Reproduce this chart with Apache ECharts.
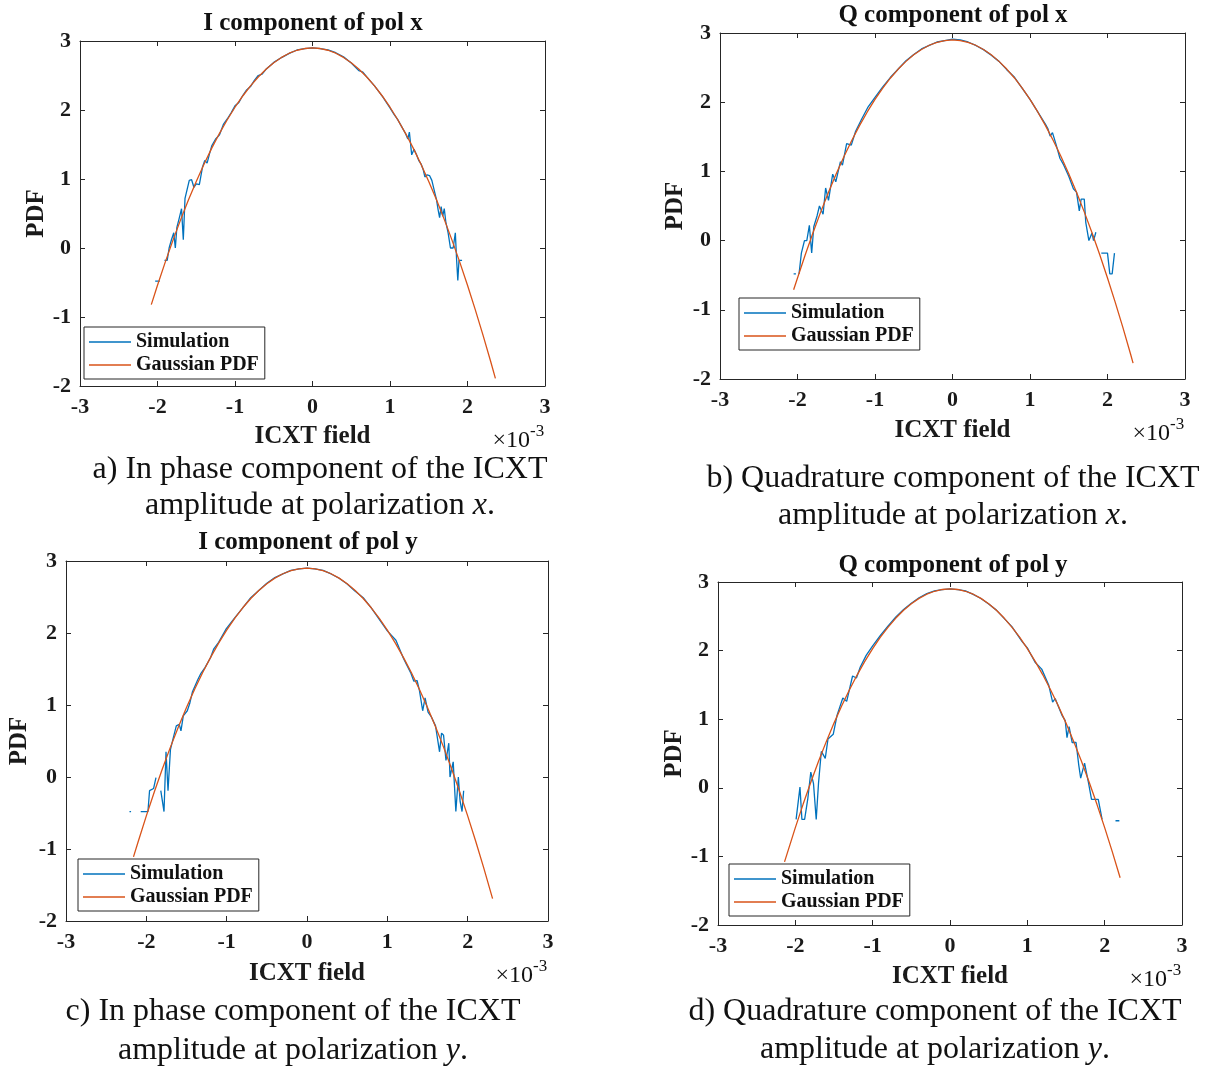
<!DOCTYPE html>
<html>
<head>
<meta charset="utf-8">
<title>ICXT field PDF</title>
<script src="https://cdn.jsdelivr.net/npm/echarts@6/dist/echarts.min.js"></script>
<style>
  html, body { margin: 0; padding: 0; background: #fff; }
  #chart { width: 1209px; height: 1066px; }
</style>
</head>
<body>
<div id="chart"></div>
<script>
// x values are in units of 1e-3 (axis multiplier shown as x10^-3), y = log PDF

// ---- a) I component, pol x ----
const simAX = [-2.03, -1.97, -1.94, -1.91, -1.875, -1.85, -1.82, -1.79, -1.77, -1.75,
  -1.72, -1.69, -1.667, -1.645, -1.62, -1.59, -1.56, -1.53, -1.5, -1.46,
  -1.42, -1.39, -1.36, -1.33, -1.3, -1.25, -1.2, -1.15, -1.1, -1.05,
  -1.0, -0.95, -0.9, -0.85, -0.8, -0.75, -0.7, -0.65, -0.6, -0.5,
  -0.4, -0.3, -0.2, -0.1, 0, 0.1, 0.2, 0.3, 0.4, 0.5,
  0.6, 0.65, 0.7, 0.8, 0.9, 1.0, 1.05, 1.1, 1.15, 1.2,
  1.23, 1.25, 1.28, 1.31, 1.34, 1.37, 1.4, 1.43, 1.45, 1.48,
  1.51, 1.54, 1.57, 1.6, 1.62, 1.64, 1.66, 1.68, 1.70, 1.72,
  1.75, 1.78, 1.815, 1.843, 1.86, 1.875, 1.89, 1.93];
const simAY = [-0.48, -0.48, null, -0.18, -0.18, 0.0, 0.12, 0.22, 0.0, 0.3,
  0.43, 0.57, 0.12, 0.72, 0.73, 0.98, 0.99, 0.88, 0.93, 0.92,
  1.17, 1.27, 1.23, 1.36, 1.48, 1.58, 1.64, 1.79, 1.87, 1.96,
  2.06, 2.11, 2.21, 2.29, 2.34, 2.43, 2.50, 2.52, 2.59, 2.69,
  2.76, 2.82, 2.87, 2.89, 2.90, 2.89, 2.87, 2.83, 2.77, 2.68,
  2.57, 2.55, 2.48, 2.35, 2.20, 2.03, 1.94, 1.86, 1.76, 1.66,
  1.58, 1.68, 1.35, 1.43, 1.36, 1.27, 1.22, 1.13, 1.03, 1.06,
  1.05, 0.98, 0.84, 0.70, 0.56, 0.44, 0.60, 0.46, 0.57, 0.38,
  0.22, 0.0, 0.0, 0.22, -0.18, -0.47, -0.18, -0.18];
const gaussAX = [-2.08, -2.0, -1.9, -1.8, -1.7, -1.6, -1.5, -1.4, -1.3, -1.2, -1.1, -1.0,
  -0.9, -0.8, -0.7, -0.6, -0.5, -0.4, -0.3, -0.2, -0.1, 0, 0.1, 0.2, 0.3, 0.4, 0.5, 0.6,
  0.7, 0.8, 0.9, 1.0, 1.1, 1.2, 1.3, 1.4, 1.5, 1.6, 1.7, 1.8, 1.9, 2.0, 2.1, 2.2, 2.3, 2.36];
const gaussAY = [-0.82, -0.54, -0.205, 0.114, 0.415, 0.698, 0.965, 1.214, 1.447, 1.662, 1.859, 2.04,
  2.203, 2.35, 2.479, 2.59, 2.685, 2.762, 2.823, 2.866, 2.891, 2.9, 2.891, 2.866, 2.823, 2.762, 2.685, 2.59,
  2.479, 2.35, 2.203, 2.04, 1.859, 1.662, 1.447, 1.214, 0.965, 0.698, 0.415, 0.114, -0.205, -0.54, -0.893, -1.262, -1.649, -1.89];

// ---- b) Q component, pol x ----
const simBX = [-2.05, -2.02, -2.0, -1.98, -1.95, -1.91, -1.88, -1.847, -1.817, -1.79,
  -1.747, -1.717, -1.67, -1.637, -1.6, -1.546, -1.506, -1.446, -1.42, -1.366,
  -1.306, -1.25, -1.17, -1.095, -1.0, -0.9, -0.8, -0.7, -0.6, -0.5,
  -0.4, -0.3, -0.2, -0.1, 0, 0.1, 0.2, 0.3, 0.4, 0.5,
  0.6, 0.7, 0.8, 0.9, 1.0, 1.1, 1.2, 1.23, 1.26, 1.29,
  1.336, 1.386, 1.436, 1.5, 1.56, 1.6, 1.636, 1.66, 1.70, 1.72,
  1.76, 1.80, 1.82, 1.85, 1.88, 1.92, 2.0, 2.03, 2.06, 2.09];
const simBY = [-0.48, -0.48, null, -0.48, -0.18, 0.0, 0.0, 0.22, -0.18, 0.2,
  0.36, 0.5, 0.38, 0.76, 0.58, 0.96, 0.85, 1.14, 1.09, 1.40,
  1.38, 1.58, 1.76, 1.92, 2.07, 2.22, 2.36, 2.48, 2.60, 2.69,
  2.77, 2.82, 2.87, 2.89, 2.91, 2.90, 2.87, 2.82, 2.76, 2.68,
  2.59, 2.47, 2.36, 2.20, 2.04, 1.86, 1.68, 1.62, 1.51, 1.56,
  1.39, 1.19, 1.09, 0.93, 0.75, 0.70, 0.43, 0.60, 0.60, 0.26,
  0.0, 0.11, 0.0, 0.12, null, -0.18, -0.18, -0.48, -0.48, -0.18];
const gaussBX = [-2.05, -2.0, -1.9, -1.8, -1.7, -1.6, -1.5, -1.4, -1.3, -1.2, -1.1, -1.0,
  -0.9, -0.8, -0.7, -0.6, -0.5, -0.4, -0.3, -0.2, -0.1, 0, 0.1, 0.2, 0.3, 0.4, 0.5, 0.6,
  0.7, 0.8, 0.9, 1.0, 1.1, 1.2, 1.3, 1.4, 1.5, 1.6, 1.7, 1.8, 1.9, 2.0, 2.1, 2.2, 2.3, 2.33];
const gaussBY = [-0.71, -0.54, -0.205, 0.114, 0.415, 0.698, 0.965, 1.214, 1.447, 1.662, 1.859, 2.04,
  2.203, 2.35, 2.479, 2.59, 2.685, 2.762, 2.823, 2.866, 2.891, 2.9, 2.891, 2.866, 2.823, 2.762, 2.685, 2.59,
  2.479, 2.35, 2.203, 2.04, 1.859, 1.662, 1.447, 1.214, 0.965, 0.698, 0.415, 0.114, -0.205, -0.54, -0.893, -1.262, -1.649, -1.77];

// ---- c) I component, pol y ----
const simCX = [-2.21, -2.19, -2.17, -2.07, -1.98, -1.96, -1.94, -1.91, -1.88, -1.86,
  -1.82, -1.80, -1.78, -1.755, -1.73, -1.70, -1.67, -1.627, -1.59, -1.569,
  -1.54, -1.49, -1.46, -1.427, -1.36, -1.32, -1.27, -1.2, -1.16, -1.1,
  -1.004, -0.9, -0.8, -0.7, -0.6, -0.5, -0.4, -0.3, -0.2, -0.1,
  0, 0.1, 0.2, 0.3, 0.4, 0.5, 0.6, 0.7, 0.8, 0.9,
  1.0, 1.107, 1.2, 1.24, 1.29, 1.33, 1.37, 1.40, 1.44, 1.47,
  1.507, 1.55, 1.60, 1.65, 1.675, 1.70, 1.73, 1.765, 1.78, 1.82,
  1.853, 1.884, 1.906, 1.93, 1.95];
const simCY = [-0.48, -0.48, null, -0.48, -0.48, -0.19, -0.19, -0.16, -0.01, null,
  -0.19, -0.19, -0.48, 0.35, -0.19, 0.38, 0.52, 0.71, 0.73, 0.64,
  0.85, 0.92, 1.02, 1.18, 1.35, 1.44, 1.52, 1.66, 1.78, 1.87,
  2.06, 2.21, 2.35, 2.49, 2.59, 2.69, 2.77, 2.82, 2.87, 2.89,
  2.90, 2.89, 2.87, 2.82, 2.76, 2.68, 2.58, 2.49, 2.35, 2.19,
  2.03, 1.90, 1.65, 1.56, 1.45, 1.33, 1.34, 1.20, 0.92, 1.10,
  0.90, 0.83, 0.71, 0.35, 0.61, 0.58, 0.23, 0.47, 0.0, 0.21,
  -0.48, 0.0, -0.34, -0.48, -0.19];
const gaussCX = [-2.16, -2.1, -2.0, -1.9, -1.8, -1.7, -1.6, -1.5, -1.4, -1.3, -1.2, -1.1, -1.0,
  -0.9, -0.8, -0.7, -0.6, -0.5, -0.4, -0.3, -0.2, -0.1, 0, 0.1, 0.2, 0.3, 0.4, 0.5, 0.6,
  0.7, 0.8, 0.9, 1.0, 1.1, 1.2, 1.3, 1.4, 1.5, 1.6, 1.7, 1.8, 1.9, 2.0, 2.1, 2.2, 2.31];
const gaussCY = [-1.11, -0.893, -0.54, -0.205, 0.114, 0.415, 0.698, 0.965, 1.214, 1.447, 1.662, 1.859, 2.04,
  2.203, 2.35, 2.479, 2.59, 2.685, 2.762, 2.823, 2.866, 2.891, 2.9, 2.891, 2.866, 2.823, 2.762, 2.685, 2.59,
  2.479, 2.35, 2.203, 2.04, 1.859, 1.662, 1.447, 1.214, 0.965, 0.698, 0.415, 0.114, -0.205, -0.54, -0.893, -1.262, -1.69];

// ---- d) Q component, pol y ----
const simDX = [-1.99, -1.965, -1.94, -1.915, -1.88, -1.84, -1.80, -1.765, -1.73, -1.70,
  -1.664, -1.613, -1.578, -1.51, -1.46, -1.386, -1.336, -1.26, -1.21, -1.16,
  -1.084, -1.0, -0.9, -0.8, -0.7, -0.6, -0.5, -0.4, -0.3, -0.2,
  -0.1, 0, 0.1, 0.2, 0.3, 0.4, 0.5, 0.6, 0.7, 0.8,
  0.933, 1.0, 1.1, 1.186, 1.276, 1.327, 1.36, 1.40, 1.447, 1.49,
  1.513, 1.54, 1.58, 1.63, 1.665, 1.69, 1.74, 1.79, 1.83, 1.917,
  1.967, 1.99, 2.14, 2.19];
const simDY = [-0.46, -0.46, 0.01, -0.46, -0.46, -0.17, 0.23, 0.06, -0.46, 0.07,
  0.53, 0.43, 0.71, 0.78, 1.06, 1.31, 1.26, 1.63, 1.60, 1.76,
  1.93, 2.07, 2.22, 2.36, 2.49, 2.60, 2.69, 2.77, 2.83, 2.87,
  2.89, 2.90, 2.89, 2.87, 2.82, 2.76, 2.68, 2.59, 2.47, 2.35,
  2.13, 2.04, 1.83, 1.73, 1.50, 1.25, 1.30, 1.19, 1.06, 0.98,
  0.73, 0.89, 0.66, 0.66, 0.33, 0.14, 0.36, 0.08, -0.17, -0.17,
  -0.46, null, -0.48, -0.48];
const gaussDX = [-2.14, -2.1, -2.0, -1.9, -1.8, -1.7, -1.6, -1.5, -1.4, -1.3, -1.2, -1.1, -1.0,
  -0.9, -0.8, -0.7, -0.6, -0.5, -0.4, -0.3, -0.2, -0.1, 0, 0.1, 0.2, 0.3, 0.4, 0.5, 0.6,
  0.7, 0.8, 0.9, 1.0, 1.1, 1.2, 1.3, 1.4, 1.5, 1.6, 1.7, 1.8, 1.9, 2.0, 2.1, 2.2];
const gaussDY = [-1.08, -0.937, -0.58, -0.241, 0.081, 0.386, 0.673, 0.943, 1.195, 1.43, 1.647, 1.847, 2.03,
  2.195, 2.343, 2.474, 2.587, 2.683, 2.761, 2.822, 2.865, 2.891, 2.9, 2.891, 2.865, 2.822, 2.761, 2.683, 2.587,
  2.474, 2.343, 2.195, 2.03, 1.847, 1.647, 1.43, 1.195, 0.943, 0.673, 0.386, 0.081, -0.241, -0.58, -0.937, -1.311];

const seriesNames = ['Simulation', 'Gaussian PDF'];
const titles = ['I component of pol x', 'Q component of pol x', 'I component of pol y', 'Q component of pol y'];
const captions = [
  ['a) In phase component of the ICXT', 'amplitude at polarization {i|x}.'],
  ['b) Quadrature component of the ICXT', 'amplitude at polarization {i|x}.'],
  ['c) In phase component of the ICXT', 'amplitude at polarization {i|y}.'],
  ['d) Quadrature component of the ICXT', 'amplitude at polarization {i|y}.']
];
const xRange = [-3, 3];
const yRange = [-2, 3];

const sims = [[simAX, simAY], [simBX, simBY], [simCX, simCY], [simDX, simDY]];
const gauss = [[gaussAX, gaussAY], [gaussBX, gaussBY], [gaussCX, gaussCY], [gaussDX, gaussDY]];

// layout of the four panels (pixels)
const panels = [
  { l: 80,  t: 41,  w: 465, h: 345, tx: 313, ty: 24,  yGap: 30, xGap: 38, lg: [84, 327],  cx: 320, cy: [470, 506] },
  { l: 720, t: 33,  w: 465, h: 346, tx: 953, ty: 16,  yGap: 32, xGap: 39, lg: [739, 298], cx: 953, cy: [479, 516] },
  { l: 66,  t: 561, w: 482, h: 360, tx: 308, ty: 543, yGap: 34, xGap: 40, lg: [78, 859],  cx: 293, cy: [1012, 1051] },
  { l: 718, t: 582, w: 464, h: 343, tx: 953, ty: 566, yGap: 30, xGap: 39, lg: [729, 864], cx: 935, cy: [1012, 1050] }
];

const BLUE = '#0072BD';
const ORANGE = '#D95319';
const AX = '#262626';
const SERIF = '"Liberation Serif", "Times New Roman", serif';

function pts(xs, ys) {
  return xs.map((x, i) => (ys[i] === null ? [x, '-'] : [x, ys[i]]));
}

const boldLabel = { fontFamily: SERIF, fontWeight: 'bold', fontSize: 22, color: '#1a1a1a' };
const boldName = { fontFamily: SERIF, fontWeight: 'bold', fontSize: 25, color: '#1a1a1a' };

const grid = [], xAxis = [], yAxis = [], series = [], legend = [], graphic = [];

panels.forEach((p, i) => {
  grid.push({ left: p.l, top: p.t, width: p.w, height: p.h, containLabel: false });
});

// main axes (0..3)
panels.forEach((p, i) => {
  xAxis.push({
    type: 'value', gridIndex: i, min: xRange[0], max: xRange[1], interval: 1, position: 'bottom',
    name: 'ICXT field', nameLocation: 'middle', nameGap: p.xGap, nameTextStyle: boldName,
    axisLine: { onZero: false, lineStyle: { color: AX, width: 1 } },
    axisTick: { inside: true, length: 5, lineStyle: { color: AX } },
    axisLabel: Object.assign({ margin: 10 }, boldLabel),
    splitLine: { show: false }
  });
  yAxis.push({
    type: 'value', gridIndex: i, min: yRange[0], max: yRange[1], interval: 1, position: 'left',
    name: 'PDF', nameLocation: 'middle', nameGap: p.yGap, nameRotate: 90, nameTextStyle: boldName,
    axisLine: { onZero: false, lineStyle: { color: AX, width: 1 } },
    axisTick: { inside: true, length: 5, lineStyle: { color: AX } },
    axisLabel: Object.assign({ margin: 9 }, boldLabel),
    splitLine: { show: false }
  });
});
// box axes, top and right (4..7)
panels.forEach((p, i) => {
  xAxis.push({
    type: 'value', gridIndex: i, min: xRange[0], max: xRange[1], interval: 1, position: 'top',
    axisLine: { onZero: false, lineStyle: { color: AX, width: 1 } },
    axisTick: { inside: true, length: 5, lineStyle: { color: AX } },
    axisLabel: { show: false }, splitLine: { show: false }
  });
  yAxis.push({
    type: 'value', gridIndex: i, min: yRange[0], max: yRange[1], interval: 1, position: 'right',
    axisLine: { onZero: false, lineStyle: { color: AX, width: 1 } },
    axisTick: { inside: true, length: 5, lineStyle: { color: AX } },
    axisLabel: { show: false }, splitLine: { show: false }
  });
});

panels.forEach((p, i) => {
  series.push({
    name: seriesNames[0], type: 'line', xAxisIndex: i, yAxisIndex: i,
    data: pts(sims[i][0], sims[i][1]), symbol: 'none', showSymbol: false, connectNulls: false,
    lineStyle: { color: BLUE, width: 1.3 }, itemStyle: { color: BLUE }, z: 2
  });
  series.push({
    name: seriesNames[1], type: 'line', xAxisIndex: i, yAxisIndex: i,
    data: pts(gauss[i][0], gauss[i][1]), symbol: 'none', showSymbol: false,
    lineStyle: { color: ORANGE, width: 1.3 }, itemStyle: { color: ORANGE }, z: 3
  });

  legend.push({
    left: p.lg[0], top: p.lg[1], orient: 'vertical', data: seriesNames,
    icon: 'rect', itemWidth: 42, itemHeight: 1.5, itemGap: 3,
    padding: [5, 6, 4, 5], backgroundColor: '#fff', borderColor: AX, borderWidth: 1,
    selectedMode: false, z: 10,
    textStyle: { fontFamily: SERIF, fontWeight: 'bold', fontSize: 20, color: '#111' }
  });

  graphic.push({
    type: 'text', x: p.tx, y: p.ty, z: 20,
    style: { text: titles[i], fontFamily: SERIF, fontWeight: 'bold', fontSize: 25, fill: '#111',
      align: 'center', verticalAlign: 'middle', textAlign: 'center', textVerticalAlign: 'middle' }
  });

  const r = p.l + p.w, b = p.t + p.h;
  graphic.push({
    type: 'text', x: r - 15, y: b + 55, z: 20,
    style: { text: '\u00d710', fontFamily: SERIF, fontSize: 24, fill: '#111',
      align: 'right', verticalAlign: 'middle', textAlign: 'right', textVerticalAlign: 'middle' }
  });
  graphic.push({
    type: 'text', x: r - 15, y: b + 46, z: 20,
    style: { text: '-3', fontFamily: SERIF, fontSize: 17, fill: '#111',
      align: 'left', verticalAlign: 'middle', textAlign: 'left', textVerticalAlign: 'middle' }
  });

  captions[i].forEach((line, k) => {
    graphic.push({
      type: 'text', x: p.cx, y: p.cy[k], z: 20,
      style: {
        text: line, fontFamily: SERIF, fontSize: 32, fill: '#111',
        align: 'center', verticalAlign: 'middle', textAlign: 'center', textVerticalAlign: 'middle',
        rich: { i: { fontFamily: SERIF, fontSize: 32, fontStyle: 'italic', fill: '#111' } }
      }
    });
  });
});

const chart = echarts.init(document.getElementById('chart'), null, { width: 1209, height: 1066 });
chart.setOption({
  backgroundColor: '#fff',
  animation: false,
  grid, xAxis, yAxis, series, legend, graphic
});
</script>
</body>
</html>
